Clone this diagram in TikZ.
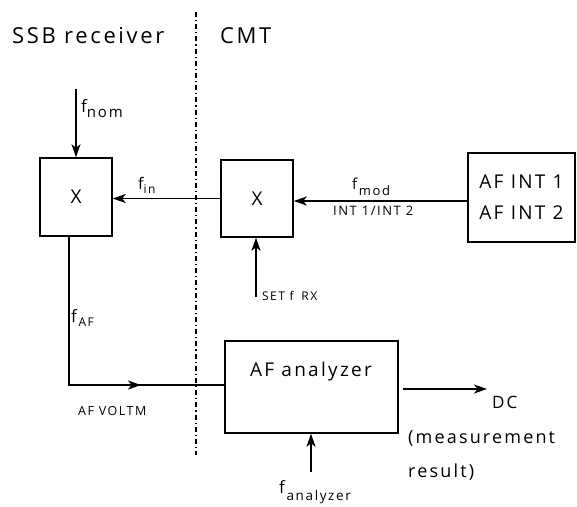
\documentclass[tikz,border=0pt]{standalone}
\usepackage{fontspec}
\setmainfont{Open Sans}[LetterSpace=12]
\usetikzlibrary{arrows.meta}
\tikzset{
  blk/.style={draw, line width=1.5pt, inner sep=0pt, font=\fontsize{19}{22}\selectfont},
  arr/.style={line width=1.5pt, -{Stealth[length=13pt,width=9pt,inset=3.5pt]}},
  ln/.style={line width=1.5pt},
  divider/.style={line width=1.1pt, dash pattern=on 5pt off 3pt on 1.2pt off 3pt},
  head/.style={font=\fontsize{22}{26}\selectfont, inner sep=0pt, anchor=base west},
  lbl/.style={inner sep=0pt, anchor=base west},
  small/.style={font=\fontsize{11}{13}\selectfont, inner sep=0pt, anchor=base west},
}
\begin{document}
\begin{tikzpicture}[x=1pt,y=-1pt]
\useasboundingbox (0,0) rectangle (577,506);
% headings and divider
\node[head] (ssb) at (12,43) {SSB receiver};
\node[head] (cmt) at (220,43) {CMT};
\coordinate (divT) at (196,12);
\coordinate (divB) at (196,455);
\draw[divider] (divT) -- (divB);
% blocks
\node[blk, minimum width=72pt, minimum height=78pt] (mixL) at (76,197) {X};
\node[blk, minimum width=72pt, minimum height=77pt] (mixR) at (257,198.5) {X};
\node[blk, minimum width=107pt, minimum height=89pt, font=\fontsize{19}{31}\selectfont, align=left] (afint) at (521.5,197.5) {AF INT 1\\AF INT 2};
\node[blk, minimum width=173pt, minimum height=92pt] (afa) at (311.5,387) {};
\node[inner sep=0pt, anchor=base, font=\fontsize{19}{22}\selectfont] (afatxt) at (311,376) {AF analyzer};
% f_nom
\coordinate (nomS) at (76,89);
\draw[arr] (nomS) -- (mixL.north);
\node[lbl] (lnom) at (81,112) {{\fontsize{17}{17}\selectfont f}\raisebox{-5pt}{\fontsize{15}{15}\selectfont nom}};
% f_in
\draw[arr] (mixR.west) -- (mixR.west -| mixL.east);
\node[lbl] (lin) at (138,189) {{\fontsize{16}{16}\selectfont f}\raisebox{-4pt}{\fontsize{12}{12}\selectfont in}};
% f_mod
\coordinate (modE) at (afint.west |- 0,201);
\draw[arr] (modE) -- (modE -| mixR.east);
\node[lbl] (lmod) at (352,189) {{\fontsize{15}{15}\selectfont f}\,\raisebox{-6pt}{\fontsize{13}{13}\selectfont mod}};
\node[lbl, font=\fontsize{13}{15}\selectfont] (lint) at (333,215) {INT 1/INT 2};
% SET f RX
\coordinate (setS) at (256,297);
\draw[arr] (setS) -- (setS |- mixR.south);
\node[small, font=\fontsize{12}{14}\selectfont] (lset) at (262,300) {SET f\; RX};
% f_AF path
\coordinate (afC) at (69,385);
\draw[ln] (afC |- mixL.south) -- (afC) -- (afC -| afa.west);
\draw[arr] (afC) -- ++(72,0);
\node[lbl] (laf) at (71,322) {{\fontsize{17}{17}\selectfont f}\,\raisebox{-4pt}{\fontsize{12}{12}\selectfont AF}};
\node[small, font=\fontsize{12.5}{15}\selectfont] (lvolt) at (78,415) {AF VOLTM};
% DC output
\coordinate (dcS) at (403,389);
\coordinate (dcE) at (487,389);
\draw[arr] (dcS) -- (dcE);
\node[lbl, font=\fontsize{17}{20}\selectfont] (dc) at (492,408) {DC};
\node[lbl, font=\fontsize{18}{20}\selectfont] (meas) at (408,443) {(measurement};
\node[lbl, font=\fontsize{18}{20}\selectfont] (res) at (408,477) {result)};
% f_analyzer
\coordinate (anS) at (311,472);
\draw[arr] (anS) -- (anS |- afa.south);
\node[lbl] (lan) at (279,493) {{\fontsize{17}{17}\selectfont f}\,\raisebox{-7pt}{\fontsize{13.5}{13.5}\selectfont analyzer}};
\end{tikzpicture}
\end{document}
